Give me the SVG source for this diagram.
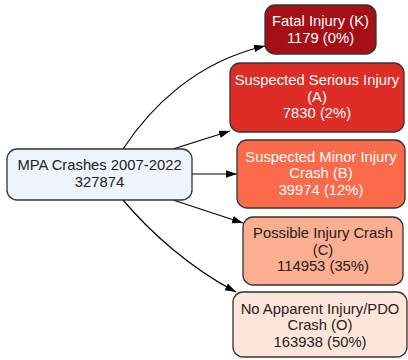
<svg xmlns="http://www.w3.org/2000/svg" width="408" height="360" viewBox="0 0 408 360">
<defs>
<style>
.box{stroke:#333;stroke-width:1.3}
text{font-family:"Liberation Sans",Arial,sans-serif;font-size:14.8px;text-anchor:middle}
.lt{fill:#ffffff}
.dk{fill:#222222}
.edge{fill:none;stroke:#000;stroke-width:1.2}
</style>
<marker id="arr" markerWidth="11" markerHeight="8" refX="11" refY="3.75" orient="auto" markerUnits="userSpaceOnUse">
<path d="M0,0 L11,3.75 L0,7.5 z" fill="#000"/>
</marker>
</defs>
<rect width="408" height="360" fill="#ffffff"/>
<g id="connectors">
<path class="edge" marker-end="url(#arr)" d="M123,149 C150,108 195,62 265,46"/>
<path class="edge" marker-end="url(#arr)" d="M173,149 L230,131"/>
<path class="edge" marker-end="url(#arr)" d="M192,174 L237,174"/>
<path class="edge" marker-end="url(#arr)" d="M173,200 L243,223"/>
<path class="edge" marker-end="url(#arr)" d="M123,200 C150,232 190,268 236,292"/>
</g>
<g id="source">
<rect class="box" x="7" y="149" width="185" height="51" rx="10" fill="#eef3fd"/>
<text class="dk" x="99.5" y="170">MPA Crashes 2007-2022</text>
<text class="dk" x="99.5" y="187">327874</text>
</g>
<g id="fatal">
<rect class="box" x="265" y="5" width="111" height="49" rx="10" fill="#a50f15"/>
<text class="lt" x="320.5" y="26">Fatal Injury (K)</text>
<text class="lt" x="320.5" y="43">1179 (0%)</text>
</g>
<g id="serious">
<rect class="box" x="230" y="63" width="174" height="69" rx="10" fill="#de2d26"/>
<text class="lt" x="317" y="85">Suspected Serious Injury</text>
<text class="lt" x="317" y="101.5">(A)</text>
<text class="lt" x="317" y="118">7830 (2%)</text>
</g>
<g id="minor">
<rect class="box" x="237" y="140" width="168" height="68" rx="10" fill="#fb6a4a"/>
<text class="lt" x="321" y="161.5">Suspected Minor Injury</text>
<text class="lt" x="321" y="178">Crash (B)</text>
<text class="lt" x="321" y="194.5">39974 (12%)</text>
</g>
<g id="possible">
<rect class="box" x="243" y="217" width="160" height="68" rx="10" fill="#fcae91"/>
<text class="dk" x="323" y="238">Possible Injury Crash</text>
<text class="dk" x="323" y="254.5">(C)</text>
<text class="dk" x="323" y="271">114953 (35%)</text>
</g>
<g id="noapparent">
<rect class="box" x="233" y="292" width="174" height="65" rx="10" fill="#fee5d9"/>
<text class="dk" x="320" y="313.5">No Apparent Injury/PDO</text>
<text class="dk" x="320" y="330">Crash (O)</text>
<text class="dk" x="320" y="346.5">163938 (50%)</text>
</g>
</svg>
